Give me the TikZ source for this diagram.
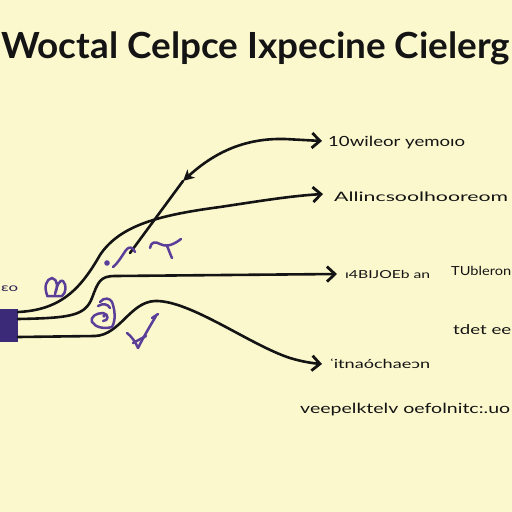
\documentclass[tikz,border=0pt]{standalone}
\usepackage{fontspec}
\usepackage{graphicx}
\setmainfont{Lato}
\usetikzlibrary{arrows.meta}
\definecolor{bg}{HTML}{FCF8CE}
\definecolor{ink}{HTML}{141414}
\definecolor{boxc}{HTML}{3A2A78}
\definecolor{scrib}{HTML}{5A3E98}
\newcommand{\fitw}[2]{\resizebox{#1}{\height}{#2}}
\begin{document}
\begin{tikzpicture}[x=1pt,y=-1pt,
  conn/.style={draw=ink,line width=2.6pt,line cap=round,line join=round},
  tipped/.style={conn,-{Straight Barb[length=8pt,width=15pt,line width=2.8pt]}},
  lbl/.style={anchor=west,inner sep=0pt,text=ink},
  scribble/.style={draw=scrib,line width=2.5pt,line cap=round,line join=round}]
\fill[bg] (0,0) rectangle (512,512);
\useasboundingbox (0,0) rectangle (512,512);

% title
\node[anchor=base west,inner sep=0pt,text=ink] (title) at (1,58)
  {\fitw{509pt}{\fontsize{36}{36}\selectfont\bfseries Woctal Celpce Ixpecine Cielerg}};

% source box
\node[fill=boxc,minimum width=20pt,minimum height=33pt,inner sep=0pt] (src) at (8,325.5) {};
\node[lbl,text=boxc!60!ink,font=\fontsize{11}{11}\selectfont] (eo) at (1,289) {\fitw{17pt}{ɛo}};

% coordinates
\coordinate (a0) at (18,312);
\coordinate (a1) at (323,194);
\coordinate (b0) at (18,319);
\coordinate (b1) at (337,274);
\coordinate (c0) at (18,337);
\coordinate (c1) at (322,364);
\coordinate (d0) at (130,253);
\coordinate (dm) at (183,181);
\coordinate (d1) at (322,141);

% connectors
\draw[tipped] (a0) .. controls (60,310) and (80,290) .. (100,255)
  .. controls (120,225) and (160,215) .. (220,207)
  .. controls (260,201) and (290,196) .. (a1);
\draw[tipped] (b0) .. controls (70,318) and (85,316) .. (92,298)
  .. controls (98,282) and (100,276) .. (115,276) -- (b1);
\draw[tipped] (c0) -- (95,336) .. controls (120,335) and (130,302) .. (155,301)
  .. controls (190,300) and (250,345) .. (290,358)
  .. controls (300,361) and (310,363) .. (c1);
\draw[conn] (d0) -- (dm);
\draw[conn,{Stealth[length=11pt,width=11pt,inset=3pt]}-{Straight Barb[length=8pt,width=15pt,line width=2.8pt]}]
  (dm) .. controls (215,152) and (245,138) .. (285,139) -- (d1);

% labels
\node[lbl,font=\fontsize{14}{14}\selectfont] (t1) at (328,143) {\fitw{137pt}{10wileor yemoıo}};
\node[lbl,font=\fontsize{13}{13}\selectfont] (t2) at (334,197) {\fitw{174pt}{Allincsoolhooreom}};
\node[lbl,font=\fontsize{11}{11}\selectfont] (t3) at (345,274) {\fitw{85pt}{ı4BIJOEb an}};
\node[lbl,font=\fontsize{12.5}{12.5}\selectfont] (t4) at (451,271) {\fitw{60pt}{TUbleron}};
\node[lbl,font=\fontsize{13.5}{13.5}\selectfont] (t5) at (453,330) {\fitw{58pt}{tdet ee}};
\node[lbl,font=\fontsize{12.5}{12.5}\selectfont] (t6) at (330,364) {\fitw{100pt}{ʿitnaóchaeɔn}};
\node[lbl,font=\fontsize{14}{14}\selectfont] (t7) at (300,410) {\fitw{210pt}{veepelktelv oefolnitc:.uo}};

% purple scribbles
\draw[scribble] (47,295) .. controls (44,287) and (46,279) .. (52,278)
  .. controls (58,279) and (58,288) .. (55,294)
  .. controls (57,285) and (60,279) .. (63,281)
  .. controls (67,285) and (66,293) .. (62,296) -- (47,296);
\fill[scrib] (107,263) circle (2.8);
\draw[scribble] (113,267) .. controls (118,263) and (122,256) .. (126,250)
  .. controls (129,246) and (133,247) .. (135,252);
\draw[scribble] (150,248) .. controls (151,242) and (155,241) .. (160,244)
  .. controls (165,247) and (172,246) .. (181,239);
\draw[scribble] (167,246) .. controls (169,250) and (170,254) .. (172,258);
\draw[scribble] (100,302) .. controls (104,297) and (110,298) .. (112,302)
  .. controls (115,310) and (116,320) .. (112,327)
  .. controls (105,329) and (96,328) .. (92,322)
  .. controls (90,317) and (96,313) .. (103,313)
  .. controls (109,314) and (109,321) .. (103,321);
\draw[scribble] (98,306) .. controls (103,303) and (108,304) .. (110,308);
\fill[scrib] (104,316) circle (1.8);
\draw[scribble] (127,333) .. controls (131,336) and (135,341) .. (138,348)
  .. controls (143,338) and (150,326) .. (156,316);
\draw[scribble] (152,318) -- (158,314);
\draw[scribble] (133,343) -- (146,336);
\end{tikzpicture}
\end{document}
